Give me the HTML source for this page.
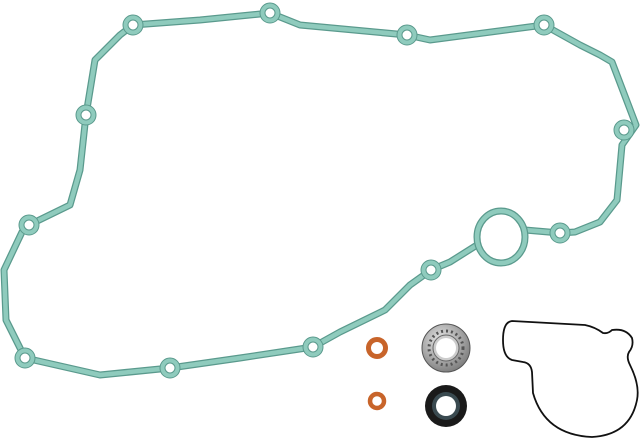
<!DOCTYPE html>
<html><head><style>html,body{margin:0;padding:0;background:#fff;width:640px;height:440px;overflow:hidden}</style></head>
<body>
<svg width="640" height="440" viewBox="0 0 640 440" xmlns="http://www.w3.org/2000/svg">
<defs>
<radialGradient id="brg" cx="0.4" cy="0.35" r="0.7"><stop offset="0" stop-color="#e8e8e8"/><stop offset="1" stop-color="#7a7a7a"/></radialGradient>
</defs>
<g stroke-linejoin="round" stroke-linecap="round" fill="none">
<path id="p" d="M477,245 L450,262 L431,270 L410,285 L385,310 L340,332 L313,347 L240,358 L170,368 L100,375 L25,358 L6,320 L4,270 L22,232 L29,225 L70,205 L80,170 L86,115 L95,60 L120,35 L133,25 L200,20 L270,13 L300,25 L407,35 L430,40 L544,25 L580,45 L600,55 L612,62 L636,125 L622,145 L617,200 L600,222 L575,232 L560,233 L525,230" stroke="#5a9a8d" stroke-width="7"/>
<path d="M477,245 L450,262 L431,270 L410,285 L385,310 L340,332 L313,347 L240,358 L170,368 L100,375 L25,358 L6,320 L4,270 L22,232 L29,225 L70,205 L80,170 L86,115 L95,60 L120,35 L133,25 L200,20 L270,13 L300,25 L407,35 L430,40 L544,25 L580,45 L600,55 L612,62 L636,125 L622,145 L617,200 L600,222 L575,232 L560,233 L525,230" stroke="#8fcbbd" stroke-width="4.5"/>
<ellipse cx="501" cy="237" rx="24" ry="26" stroke="#5a9a8d" stroke-width="7"/>
<ellipse cx="501" cy="237" rx="24" ry="26" stroke="#8fcbbd" stroke-width="4.5"/>
</g>
<g fill="#8fcbbd" stroke="#5a9a8d" stroke-width="1">
<circle cx="133" cy="25" r="10"/><circle cx="270" cy="13" r="10"/><circle cx="407" cy="35" r="10"/><circle cx="544" cy="25" r="10"/><circle cx="624" cy="130" r="10"/><circle cx="560" cy="233" r="10"/><circle cx="431" cy="270" r="10"/><circle cx="313" cy="347" r="10"/><circle cx="170" cy="368" r="10"/><circle cx="25" cy="358" r="10"/><circle cx="29" cy="225" r="10"/><circle cx="86" cy="115" r="10"/>
</g>
<g fill="#fff" stroke="#5a9a8d" stroke-width="1">
<circle cx="133" cy="25" r="5"/><circle cx="270" cy="13" r="5"/><circle cx="407" cy="35" r="5"/><circle cx="544" cy="25" r="5"/><circle cx="624" cy="130" r="5"/><circle cx="560" cy="233" r="5"/><circle cx="431" cy="270" r="5"/><circle cx="313" cy="347" r="5"/><circle cx="170" cy="368" r="5"/><circle cx="25" cy="358" r="5"/><circle cx="29" cy="225" r="5"/><circle cx="86" cy="115" r="5"/>
</g>
<circle cx="377" cy="348" r="8.5" fill="none" stroke="#c8642a" stroke-width="5"/>
<circle cx="377" cy="401" r="7" fill="none" stroke="#c8642a" stroke-width="4.5"/>
<circle cx="446" cy="348" r="24" fill="url(#brg)" stroke="#555" stroke-width="1"/>
<circle cx="446" cy="348" r="17" fill="none" stroke="#555" stroke-width="3" stroke-dasharray="2 3"/>
<circle cx="446" cy="348" r="13" fill="#ccc" stroke="#666" stroke-width="1"/>
<circle cx="446" cy="348" r="10" fill="#fff"/>
<circle cx="446" cy="406" r="21" fill="#1a1a1a"/>
<circle cx="446" cy="406" r="14" fill="#3a4a50"/>
<circle cx="446" cy="406" r="10" fill="#fff"/>
<path d="M512,321 L585,325 Q595,327 603,333 Q608,334 612,330 Q626,328 632,338 Q634,346 629,352 Q626,357 630,365 Q640,385 637,400 Q630,435 592,437 Q545,435 533,393 L532,372 Q531,363 523,362 L512,360 Q503,357 503,340 Q503,322 512,321 Z" fill="none" stroke="#111" stroke-width="1.8" stroke-linejoin="round"/>
</svg>
</body></html>
